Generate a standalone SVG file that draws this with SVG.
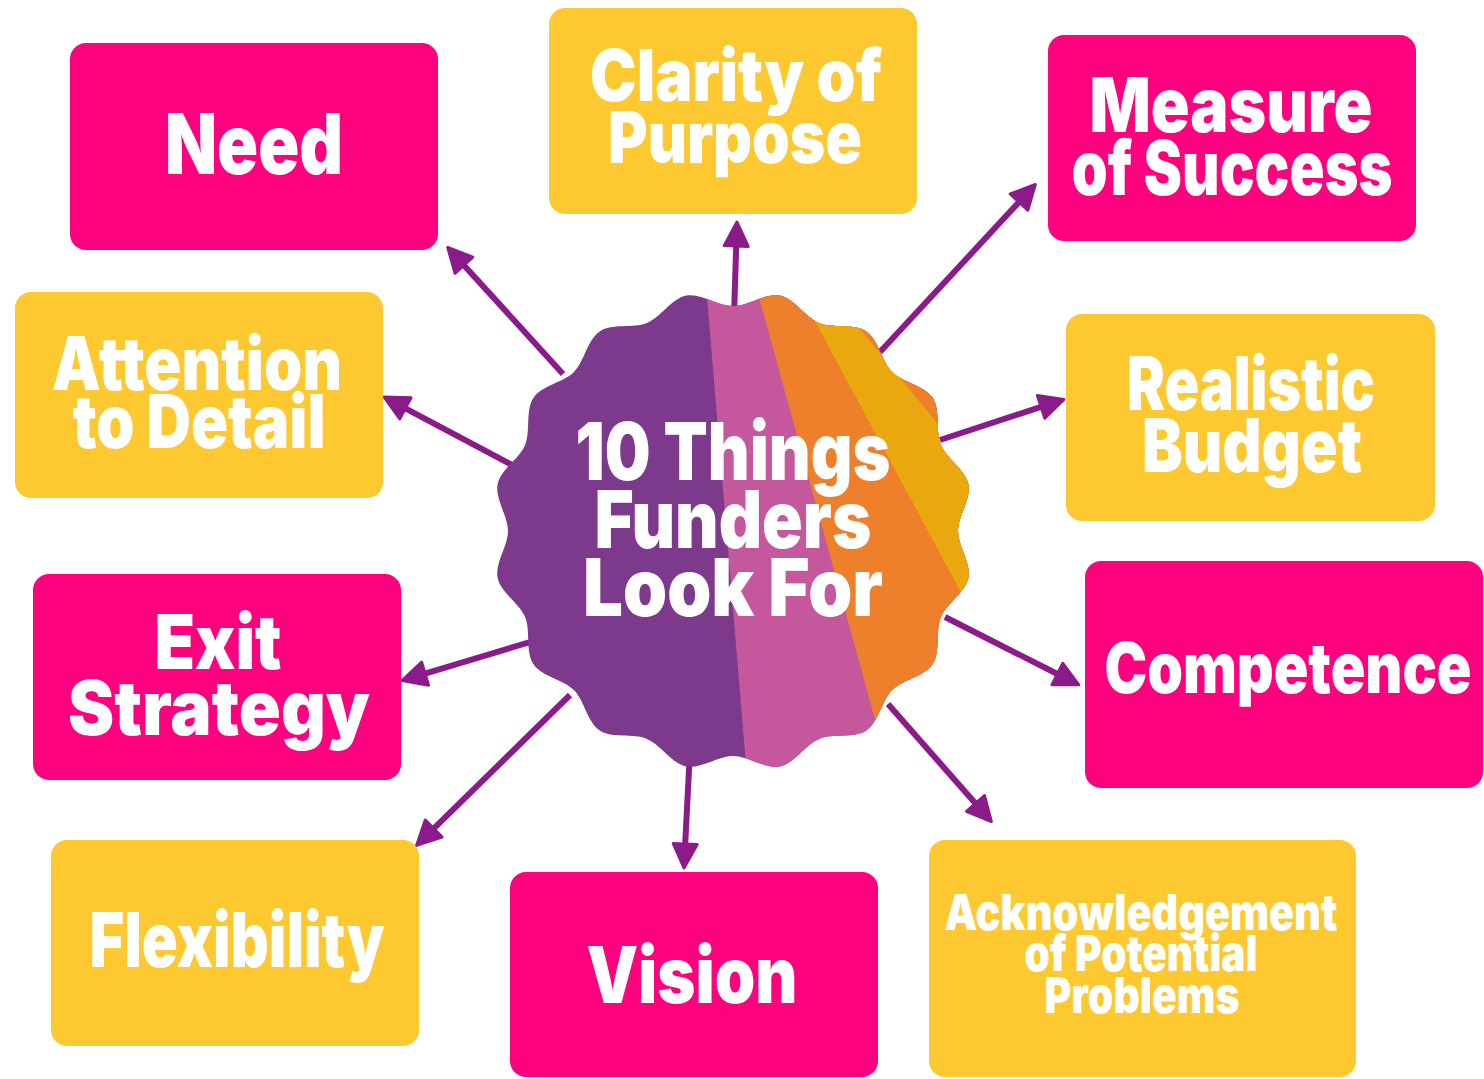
<svg xmlns="http://www.w3.org/2000/svg" width="1484" height="1079" viewBox="0 0 1484 1079">
<style>
.pink{fill:#FE017F}
.yel{fill:#FDC830}
.t{fill:#FFFFFF;font-family:Inter,"Liberation Sans",sans-serif;font-weight:900;text-anchor:middle}
.conn line{stroke:#8B1B8A;stroke-width:6;marker-end:url(#ah)}
</style>
<defs>
<marker id="ah" markerUnits="userSpaceOnUse" markerWidth="32" markerHeight="32" refX="2" refY="14" orient="auto">
<path d="M2,2 L26,14 L2,26 Z" fill="#8B1B8A" stroke="#8B1B8A" stroke-width="3" stroke-linejoin="round"/>
</marker>
<clipPath id="blobclip">
<path id="blobpath" d="M958,531 C958,546 971.3,563.1 968.4,577.8 C965.5,592.5 946.6,603.2 940.9,617.1 C935.1,631 940.9,651.9 932.6,664.3 C924.2,676.8 902.7,679.5 892.1,690.1 C881.5,700.7 878.8,722.2 866.3,730.6 C853.9,738.9 833,733.1 819.1,738.9 C805.2,744.6 794.5,763.5 779.8,766.4 C765.1,769.3 748,756 733,756 C718,756 700.9,769.3 686.2,766.4 C671.5,763.5 660.8,744.6 646.9,738.9 C633,733.1 612.1,738.9 599.7,730.6 C587.2,722.2 584.5,700.7 573.9,690.1 C563.3,679.5 541.8,676.8 533.5,664.3 C525.1,651.9 530.9,631 525.1,617.1 C519.4,603.2 500.5,592.5 497.6,577.8 C494.7,563.1 508,546 508,531 C508,516 494.7,498.9 497.6,484.2 C500.5,469.5 519.4,458.8 525.1,444.9 C530.9,431 525.1,410.1 533.5,397.7 C541.8,385.2 563.3,382.5 573.9,371.9 C584.5,361.3 587.2,339.8 599.7,331.5 C612.1,323.1 633,328.9 646.9,323.1 C660.8,317.4 671.5,298.5 686.2,295.6 C700.9,292.7 718,306 733,306 C748,306 765.1,292.7 779.8,295.6 C794.5,298.5 805.2,317.4 819.1,323.1 C833,328.9 853.9,323.1 866.3,331.5 C878.8,339.8 881.5,361.3 892.1,371.9 C902.7,382.5 924.2,385.2 932.6,397.7 C940.9,410.1 935.1,431 940.9,444.9 C946.6,458.8 965.5,469.5 968.4,484.2 C971.3,498.9 958,516 958,531 Z"/>
</clipPath>
</defs>
<rect width="1484" height="1079" fill="#FFFFFF"/>

<g id="connectors" class="conn">
<line x1="563" y1="374" x2="463.9" y2="265.2"/>
<line x1="734" y1="316" x2="736.2" y2="246"/>
<line x1="880" y1="352" x2="1019" y2="202.1"/>
<line x1="512" y1="465" x2="405.4" y2="408.3"/>
<line x1="940" y1="440" x2="1041.1" y2="406.9"/>
<line x1="547" y1="637" x2="425.1" y2="673.7"/>
<line x1="945" y1="617" x2="1057.4" y2="674"/>
<line x1="570" y1="695" x2="433.7" y2="828.6"/>
<line x1="690" y1="750" x2="685.2" y2="844"/>
<line x1="888" y1="704" x2="975.5" y2="803.5"/>
</g>

<g id="center">
<g clip-path="url(#blobclip)">
<rect x="480" y="270" width="520" height="520" fill="#7D3A8C"/>
<polygon points="705.6,280 1000,280 1000,790 748.1,790" fill="#C5579D"/>
<polygon points="754.2,280 1000,280 1000,790 894.4,790" fill="#EE7F2B"/>
<polygon points="792.8,280 819.7,280 1238.9,790 1067.3,790" fill="#E9A90E"/>
</g>
<text class="t" font-size="80" x="733" y="480" textLength="315" lengthAdjust="spacingAndGlyphs">10 Things</text>
<text class="t" font-size="80" x="733" y="548" textLength="277" lengthAdjust="spacingAndGlyphs">Funders</text>
<text class="t" font-size="80" x="733" y="616" textLength="300" lengthAdjust="spacingAndGlyphs">Look For</text>
</g>

<g id="need">
<rect class="pink" x="70" y="43" width="368" height="207" rx="16"/>
<text class="t" font-size="84" x="254" y="174" textLength="178" lengthAdjust="spacingAndGlyphs">Need</text>
</g>

<g id="clarity">
<rect class="yel" x="549" y="8" width="368" height="206" rx="16"/>
<text class="t" font-size="72" x="736" y="101" textLength="292" lengthAdjust="spacingAndGlyphs">Clarity of</text>
<text class="t" font-size="72" x="735" y="163" textLength="254" lengthAdjust="spacingAndGlyphs">Purpose</text>
</g>

<g id="measure">
<rect class="pink" x="1048" y="35" width="368" height="206" rx="16"/>
<text class="t" font-size="76" x="1231" y="132" textLength="283" lengthAdjust="spacingAndGlyphs">Measure</text>
<text class="t" font-size="76" x="1232" y="195" textLength="321" lengthAdjust="spacingAndGlyphs">of Success</text>
</g>

<g id="attention">
<rect class="yel" x="15" y="292" width="368" height="206" rx="16"/>
<text class="t" font-size="74" x="197" y="390" textLength="290" lengthAdjust="spacingAndGlyphs">Attention</text>
<text class="t" font-size="74" x="199" y="448" textLength="253" lengthAdjust="spacingAndGlyphs">to Detail</text>
</g>

<g id="realistic">
<rect class="yel" x="1066" y="314" width="369" height="207" rx="16"/>
<text class="t" font-size="74" x="1251" y="410" textLength="248" lengthAdjust="spacingAndGlyphs">Realistic</text>
<text class="t" font-size="74" x="1252" y="472" textLength="220" lengthAdjust="spacingAndGlyphs">Budget</text>
</g>

<g id="exit">
<rect class="pink" x="33" y="574" width="368" height="206" rx="16"/>
<text class="t" font-size="76" x="218" y="669" textLength="127" lengthAdjust="spacingAndGlyphs">Exit</text>
<text class="t" font-size="76" x="219" y="735" textLength="302" lengthAdjust="spacingAndGlyphs">Strategy</text>
</g>

<g id="competence">
<rect class="pink" x="1085" y="561" width="398" height="227" rx="16"/>
<text class="t" font-size="70" x="1288" y="693" textLength="367" lengthAdjust="spacingAndGlyphs">Competence</text>
</g>

<g id="flexibility">
<rect class="yel" x="51" y="840" width="368" height="206" rx="16"/>
<text class="t" font-size="76" x="237" y="967" textLength="295" lengthAdjust="spacingAndGlyphs">Flexibility</text>
</g>

<g id="vision">
<rect class="pink" x="510" y="872" width="368" height="205" rx="16"/>
<text class="t" font-size="78" x="692" y="1003" textLength="211" lengthAdjust="spacingAndGlyphs">Vision</text>
</g>

<g id="acknowledgement">
<rect class="yel" x="929" y="840" width="427" height="237" rx="16"/>
<text class="t" font-size="50" x="1141" y="930" textLength="393" lengthAdjust="spacingAndGlyphs">Acknowledgement</text>
<text class="t" font-size="50" x="1141" y="971" textLength="233" lengthAdjust="spacingAndGlyphs">of Potential</text>
<text class="t" font-size="50" x="1142" y="1013" textLength="195" lengthAdjust="spacingAndGlyphs">Problems</text>
</g>
</svg>
